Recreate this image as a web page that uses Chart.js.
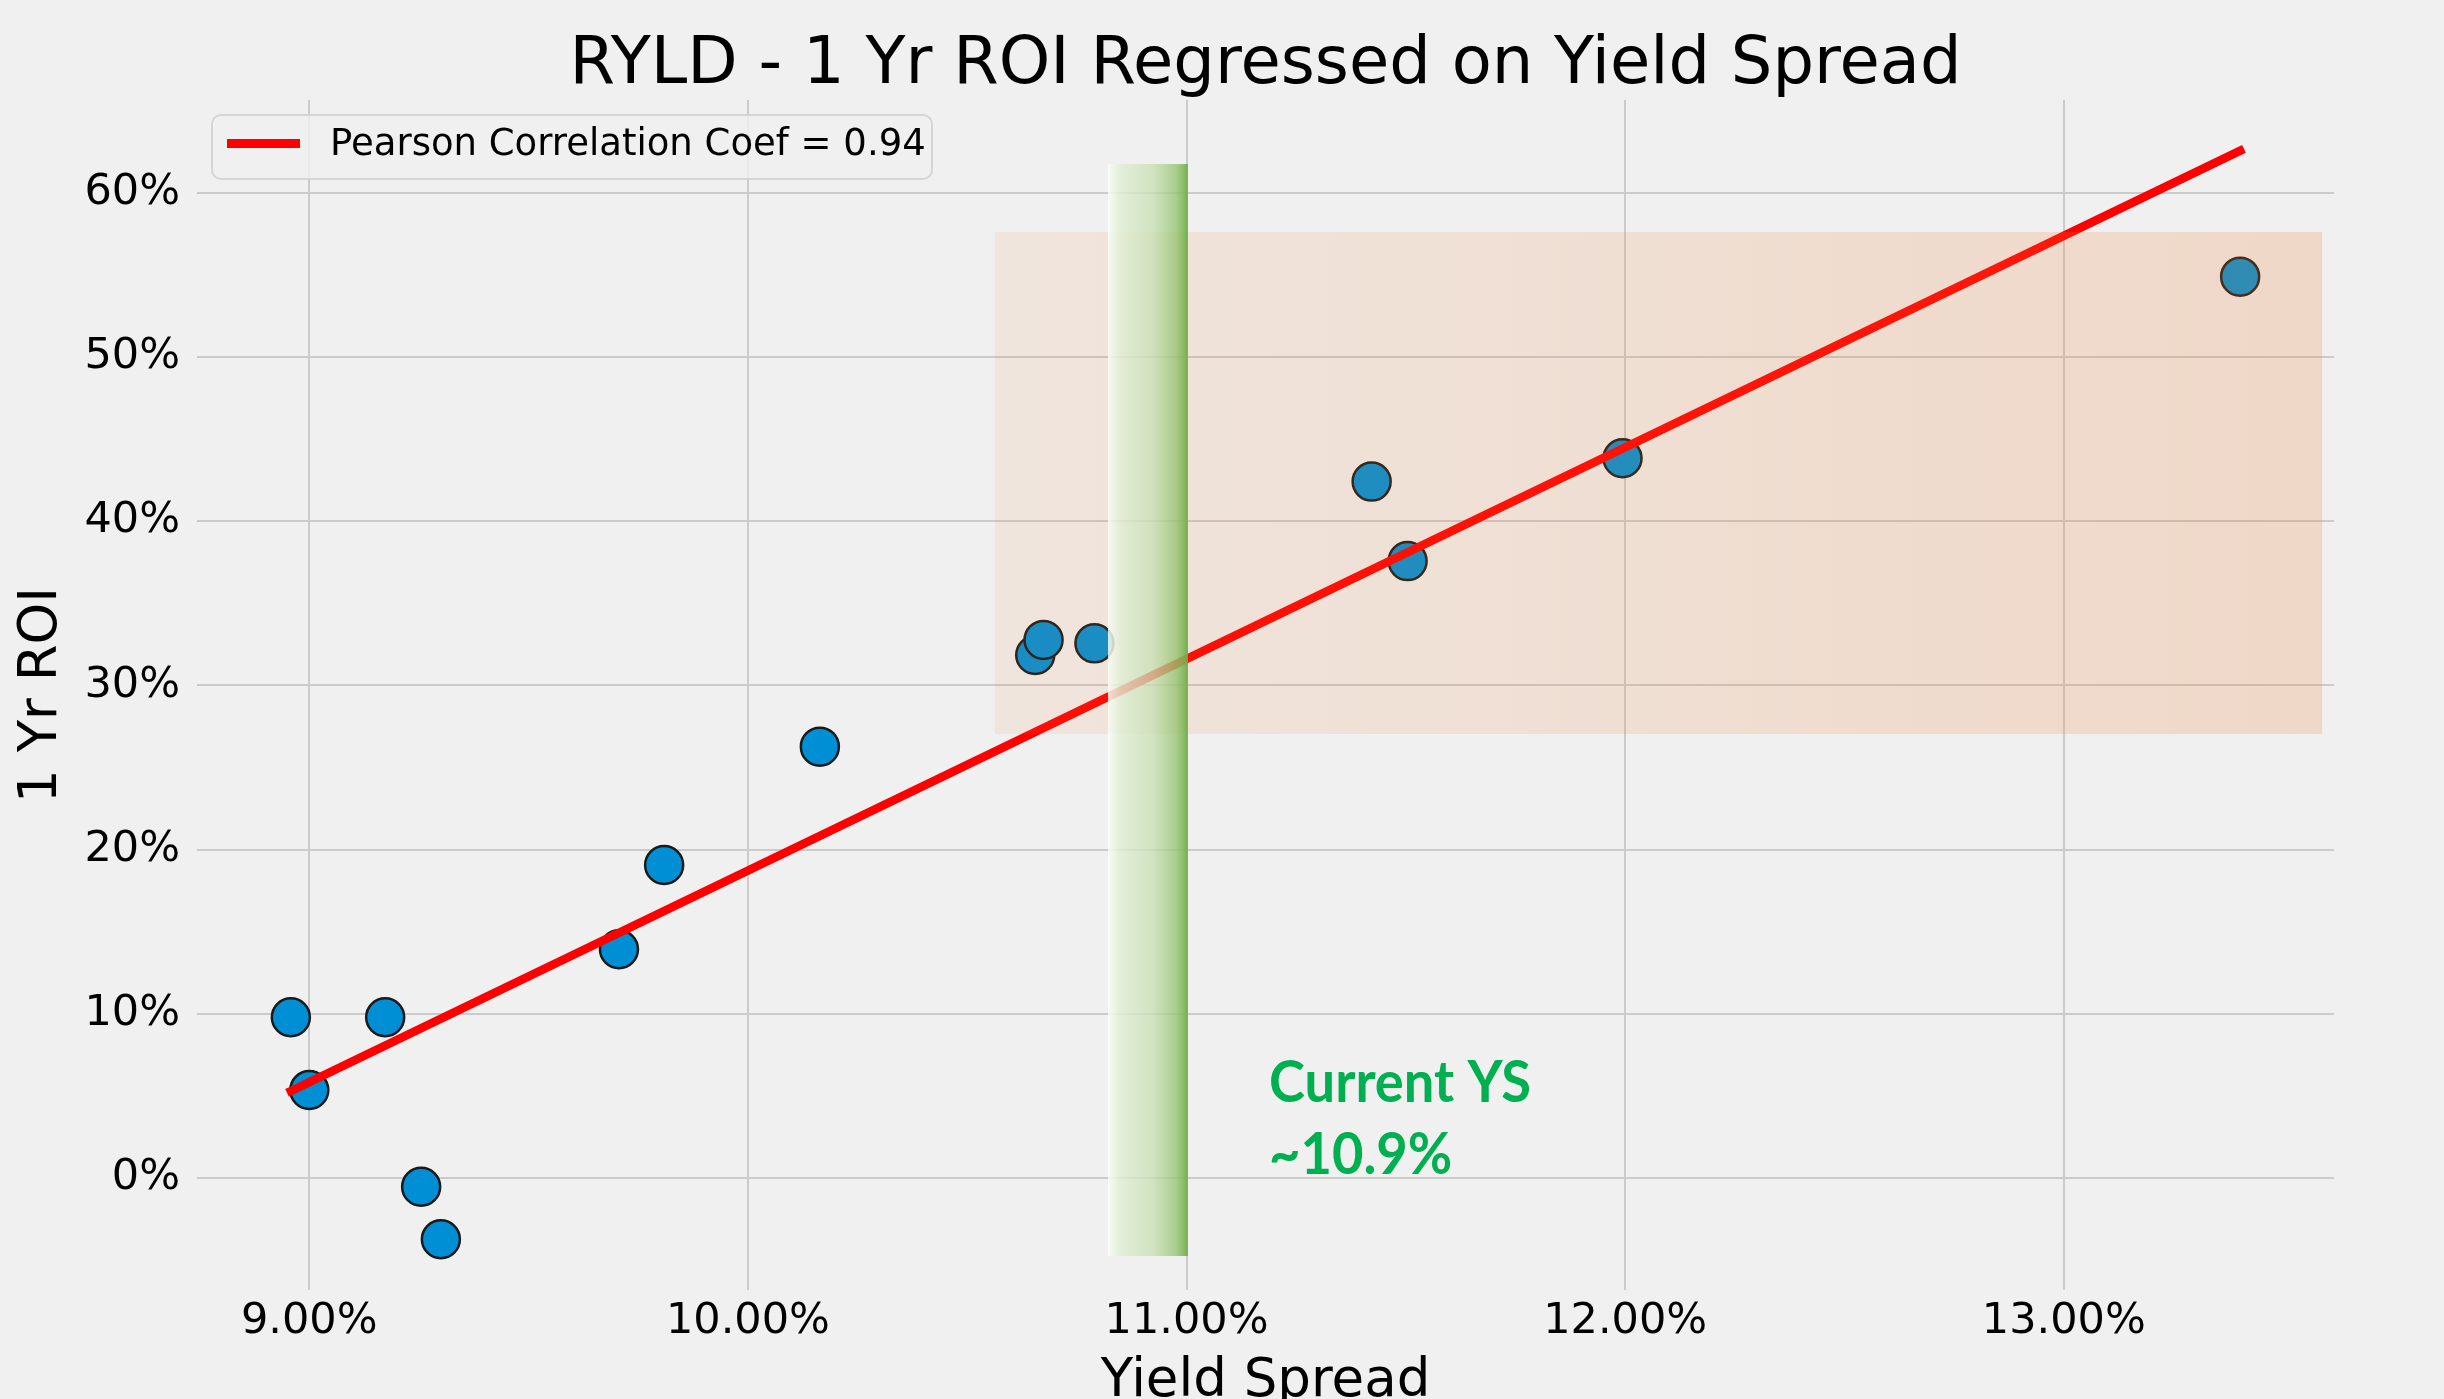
<!DOCTYPE html>
<html>
<head>
<meta charset="utf-8">
<script src="https://cdn.jsdelivr.net/npm/chart.js@4.4.1/dist/chart.umd.min.js"></script>
<style>
html,body{margin:0;padding:0;background:#f0f0f0;overflow:hidden;}
#wrap{width:2444px;height:1399px;}
</style>
</head>
<body>
<div id="wrap"><canvas id="c" width="2444" height="1399"></canvas></div>
<script>
// ---- data ----
const yieldSpread = [8.958, 9.000, 9.173, 9.255, 9.300, 9.706, 9.809, 10.164, 10.655, 10.674, 10.790, 11.422, 11.504, 11.994, 13.402];
const roi         = [9.79, 5.36, 9.79, -0.53, -3.73, 13.93, 19.06, 26.27, 31.85, 32.77, 32.56, 42.41, 37.57, 43.83, 54.89];
const fitX = [8.958, 13.402];
const fitY = [5.30, 62.56];
const xTicks = [9, 10, 11, 12, 13];
const yTicks = [0, 10, 20, 30, 40, 50, 60];
const xRange = [8.744, 13.616];
const yRange = [-6.82, 65.65];
const highlightX = [10.563, 13.589];
const highlightY = [27.04, 57.61];
const currentBandX = [10.821, 11.003];
const currentBandY = [-4.75, 61.75];
const annotationLines = ["Current YS", "~10.9%"];
const annotationAt = [11.188, 4.65];
const titleText = "RYLD - 1 Yr ROI Regressed on Yield Spread";
const xTitle = "Yield Spread";
const yTitle = "1 Yr ROI";
const legendLabel = "Pearson Correlation Coef = 0.94";

const FONT = "'DejaVu Sans', Verdana, sans-serif";

const overlayPlugin = {
  id: 'overlays',
  beforeDraw(chart) {
    const ctx = chart.ctx;
    ctx.save();
    ctx.fillStyle = '#f0f0f0';
    ctx.fillRect(0, 0, chart.width, chart.height);
    ctx.restore();
  },
  afterDatasetsDraw(chart) {
    const ctx = chart.ctx;
    const xs = chart.scales.x, ys = chart.scales.y;
    // orange highlight box
    let x1 = xs.getPixelForValue(highlightX[0]), x2 = xs.getPixelForValue(highlightX[1]);
    let y1 = ys.getPixelForValue(highlightY[1]), y2 = ys.getPixelForValue(highlightY[0]);
    ctx.save();
    let g = ctx.createLinearGradient(x1, 0, x2, 0);
    g.addColorStop(0, 'rgba(237,125,49,0.10)');
    g.addColorStop(1, 'rgba(237,125,49,0.21)');
    ctx.fillStyle = g;
    ctx.fillRect(x1, y1, x2 - x1, y2 - y1);
    // green current band
    x1 = xs.getPixelForValue(currentBandX[0]); x2 = xs.getPixelForValue(currentBandX[1]);
    y1 = ys.getPixelForValue(currentBandY[1]); y2 = ys.getPixelForValue(currentBandY[0]);
    g = ctx.createLinearGradient(x1, 0, x2, 0);
    g.addColorStop(0, 'rgba(250,253,247,0.85)');
    g.addColorStop(0.15, 'rgba(224,238,212,0.82)');
    g.addColorStop(0.55, 'rgba(200,224,180,0.75)');
    g.addColorStop(0.85, 'rgba(150,196,112,0.78)');
    g.addColorStop(1, 'rgba(112,173,71,0.95)');
    ctx.fillStyle = g;
    ctx.fillRect(x1, y1, x2 - x1, y2 - y1);
    ctx.restore();
  },
  afterDraw(chart) {
    const ctx = chart.ctx;
    const ca = chart.chartArea;
    const xs = chart.scales.x, ys = chart.scales.y;
    ctx.save();
    // title
    ctx.fillStyle = '#000';
    ctx.font = '65.5px ' + FONT;
    ctx.textAlign = 'center';
    ctx.textBaseline = 'alphabetic';
    ctx.fillText(titleText, (ca.left + ca.right) / 2, 83);
    // legend
    const lx = ca.left + 15, ly = ca.top + 15, lw = 720, lh = 64;
    ctx.beginPath();
    ctx.roundRect(lx, ly, lw, lh, 9);
    ctx.fillStyle = 'rgba(240,240,240,0.8)';
    ctx.fill();
    ctx.lineWidth = 2;
    ctx.strokeStyle = 'rgba(210,210,210,0.9)';
    ctx.stroke();
    ctx.beginPath();
    ctx.moveTo(lx + 15, ly + 28.5);
    ctx.lineTo(lx + 88, ly + 28.5);
    ctx.lineWidth = 9;
    ctx.lineCap = 'butt';
    ctx.strokeStyle = '#ff0000';
    ctx.stroke();
    ctx.fillStyle = '#000';
    ctx.font = '37px ' + FONT;
    ctx.textAlign = 'left';
    ctx.fillText(legendLabel, lx + 118, ly + 40);
    // annotation text
    const ax = xs.getPixelForValue(annotationAt[0]);
    const ay = ys.getPixelForValue(annotationAt[1]);
    ctx.font = 'bold 57px Lato, Carlito, sans-serif';
    ctx.fillStyle = '#00b050';
    const w = ctx.measureText(annotationLines[0]).width;
    const sx = 262 / w;
    annotationLines.forEach((t, i) => {
      ctx.save();
      ctx.translate(ax, ay + i * 72);
      ctx.scale(sx, 1);
      ctx.fillText(t, 0, 0);
      ctx.restore();
    });
    ctx.restore();
  }
};

const chart = new Chart(document.getElementById('c'), {
  type: 'scatter',
  data: {
    datasets: [
      {
        type: 'line',
        label: legendLabel,
        data: fitX.map((x, i) => ({ x: x, y: fitY[i] })),
        borderColor: '#ff0000',
        backgroundColor: '#ff0000',
        borderWidth: 8.5,
        borderCapStyle: 'square',
        pointRadius: 0,
        showLine: true,
        fill: false,
        order: 0
      },
      {
        label: 'ROI',
        data: yieldSpread.map((x, i) => ({ x: x, y: roi[i] })),
        backgroundColor: '#008fd5',
        borderColor: '#1a1a1a',
        borderWidth: 2.5,
        pointRadius: 19,
        pointHoverRadius: 19,
        order: 1
      }
    ]
  },
  options: {
    responsive: false,
    devicePixelRatio: 1,
    animation: false,
    events: [],
    layout: { padding: { top: 100, right: 110, bottom: 0, left: 0 } },
    plugins: {
      legend: { display: false },
      title: { display: false },
      tooltip: { enabled: false }
    },
    scales: {
      x: {
        type: 'linear',
        min: xRange[0],
        max: xRange[1],
        afterBuildTicks: s => { s.ticks = xTicks.map(v => ({ value: v })); },
        afterFit: s => { s.height = 109; },
        grid: { color: '#cbcbcb', lineWidth: 2, drawTicks: false },
        border: { display: false },
        ticks: {
          padding: 6,
          color: '#000',
          font: { family: FONT, size: 43 },
          callback: v => v.toFixed(2) + '%'
        },
        title: {
          display: true,
          text: xTitle,
          color: '#000',
          font: { family: FONT, size: 53, lineHeight: 1.2 },
          padding: { top: 0, bottom: -15 }
        }
      },
      y: {
        type: 'linear',
        min: yRange[0],
        max: yRange[1],
        afterBuildTicks: s => { s.ticks = yTicks.map(v => ({ value: v })); },
        afterFit: s => { s.width = 197; },
        grid: { color: '#cbcbcb', lineWidth: 2, drawTicks: false },
        border: { display: false },
        ticks: {
          padding: 17,
          color: '#000',
          font: { family: FONT, size: 43 },
          callback: v => v + '%'
        },
        title: {
          display: true,
          text: yTitle,
          color: '#000',
          font: { family: FONT, size: 53, lineHeight: 1.2 },
          padding: { top: 10, bottom: 0 }
        }
      }
    }
  },
  plugins: [overlayPlugin]
});
</script>
</body>
</html>
